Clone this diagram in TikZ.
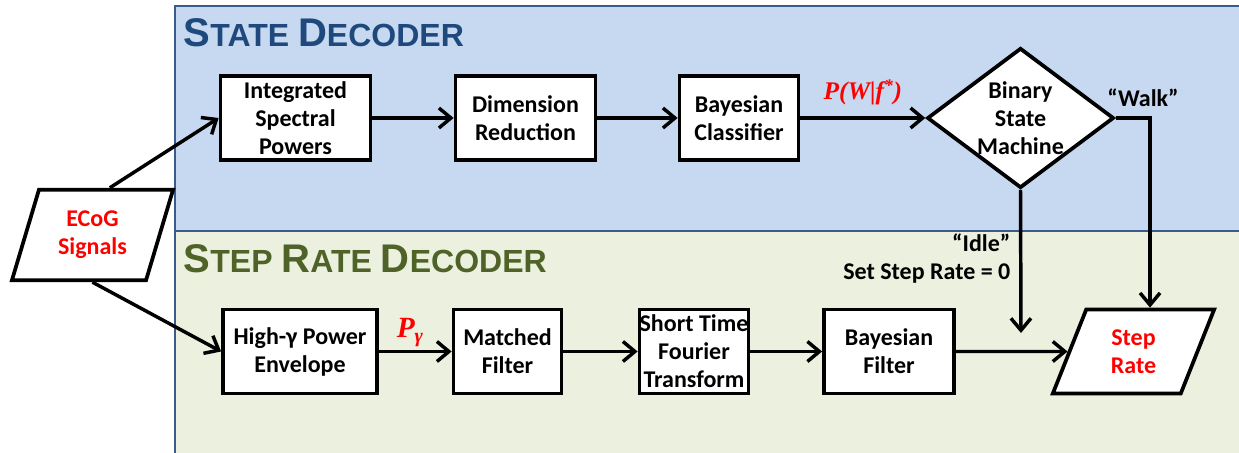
\documentclass[tikz,border=0pt]{standalone}
\usepackage{fontspec}
\setmainfont{Carlito}
\newfontfamily\headfont{Liberation Sans}
\newfontfamily\signalfont{Liberation Serif}
\usetikzlibrary{arrows.meta,shapes.geometric}

\definecolor{statefill}{RGB}{198,217,240}
\definecolor{ratefill}{RGB}{235,241,222}
\definecolor{panelline}{RGB}{56,93,138}
\definecolor{stateblue}{RGB}{31,73,125}
\definecolor{rategreen}{RGB}{79,98,40}

\newcommand{\boxfont}{\bfseries\fontsize{18}{21}\selectfont}
\newcommand{\capbig}[1]{{\fontsize{30}{30}\selectfont #1}}
\newcommand{\capsmall}[1]{{\fontsize{24}{24}\selectfont #1}}

\begin{document}
\begin{tikzpicture}[x=0.75pt,y=-0.75pt,
  block/.style={draw,line width=2.8pt,fill=white,align=center,font=\boxfont,
    inner sep=0pt,minimum height=63pt},
  io/.style={draw,line width=2.8pt,fill=white,align=center,font=\boxfont,
    text=red,inner sep=0pt,trapezium,trapezium stretches=true,
    trapezium left angle=70,trapezium right angle=110},
  decide/.style={draw,line width=2.8pt,fill=white,diamond,inner sep=0pt,
    minimum width=140pt,minimum height=105pt},
  flow/.style={-{Straight Barb[length=9pt,width=15pt]},line width=2.6pt},
  plabel/.style={text=red,font=\signalfont\bfseries\itshape\fontsize{19}{19}\selectfont},
  tag/.style={font=\boxfont,align=right},
  title/.style={anchor=base west,font=\headfont\bfseries}]

\useasboundingbox (0,0) rectangle (1239,453);
\draw[fill=statefill,draw=panelline,line width=1.5pt] (175,6) rectangle (1250,231);
\draw[fill=ratefill,draw=panelline,line width=1.5pt] (175,231) rectangle (1250,465);

\node[title,text=stateblue] (statehead) at (179,47) {\capbig{S}\capsmall{TATE }\capbig{D}\capsmall{ECODER}};
\node[title,text=rategreen] (ratehead) at (179,272) {\capbig{S}\capsmall{TEP }\capbig{R}\capsmall{ATE }\capbig{D}\capsmall{ECODER}};

\node[io,minimum width=121.5pt,minimum height=68pt] (ecog) at (92.5,235) {ECoG\\Signals};

\node[block,minimum width=112.5pt] (isp) at (295.5,118) {Integrated\\Spectral\\Powers};
\node[block,minimum width=105pt] (dr) at (525.5,118) {Dimension\\Reduction};
\node[block,minimum width=89.25pt] (bc) at (739,118) {Bayesian\\Classifier};
\node[decide,label={[font=\boxfont,align=center]center:Binary\\State\\Machine}] (bsm) at (1020.5,118) {};

\node[block,minimum width=115.5pt] (hge) at (300,351.5) {High-γ Power\\Envelope};
\node[block,minimum width=81pt] (mf) at (507.5,351.5) {Matched\\Filter};
\node[block,minimum width=81.75pt] (stft) at (694,351.5) {Short Time\\Fourier\\Transform};
\node[block,minimum width=97.5pt] (bf) at (889,351.5) {Bayesian\\Filter};
\node[io,minimum width=121.5pt,minimum height=63pt] (sr) at (1133.5,351.5) {Step\\Rate};

\node[tag] (walk) at (1143,98) {``Walk''};
\node[tag,anchor=east] (idle) at (1015,259) {``Idle''\\Set Step Rate = 0};
\coordinate (idleend) at (1021,333);

\draw[flow] ([xshift=13pt]ecog.north) -- (isp.west);
\draw[flow] (ecog.south) -- (hge.west);
\draw[flow] (isp) -- (dr);
\draw[flow] (dr) -- (bc);
\draw[flow] (bc) -- node[plabel,above=5pt] (pwf) {P(W|f\textsuperscript{*})} (bsm);
\draw[flow] (bsm.east) -| ([xshift=12.4pt]sr.north);
\draw[flow] (bsm.south) -- (idleend);
\draw[flow] (hge) -- node[plabel,above=-1pt,xshift=-4pt,font=\signalfont\bfseries\itshape\fontsize{22}{22}\selectfont] (pgamma) {P\raisebox{-4pt}{\fontsize{15}{15}\selectfont γ}} (mf);
\draw[flow] (mf) -- (stft);
\draw[flow] (stft) -- (bf);
\draw[flow] (bf.east) -- (sr.west);
\end{tikzpicture}
\end{document}
